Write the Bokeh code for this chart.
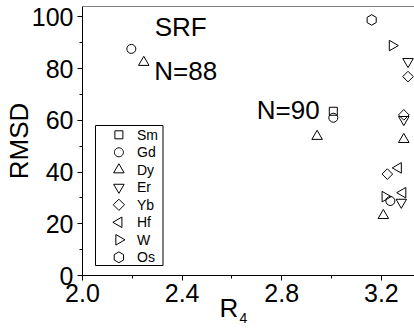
import numpy as np
from bokeh.plotting import figure
from bokeh.models import (Range1d, FixedTicker, Label, Span, PrintfTickFormatter,
                          BoxAnnotation, PolyAnnotation, Title)
from bokeh.embed import file_html
from bokeh.resources import INLINE

# ---- data ----
sm_x = [3.007]
sm_y = [63.5]
gd_x = [2.196, 3.007, 3.236]
gd_y = [87.6, 61.0, 28.8]
dy_x = [2.246, 2.942, 3.290, 3.208]
dy_y = [82.4, 53.8, 52.6, 23.2]
er_x = [3.307, 3.290, 3.280]
er_y = [82.7, 60.3, 28.3]
yb_x = [3.307, 3.290, 3.224]
yb_y = [76.9, 62.1, 39.2]
hf_x = [3.268, 3.286]
hf_y = [41.6, 32.0]
w_x = [3.244, 3.215]
w_y = [88.9, 30.5]
os_x = [3.161]
os_y = [98.8]

legend_labels = ["Sm", "Gd", "Dy", "Er", "Yb", "Hf", "W", "Os"]
x_ticks = [2.0, 2.4, 2.8, 3.2]
y_ticks = [0, 20, 40, 60, 80, 100]
x_lim = (2.0, 3.333)
y_lim = (0, 104)

FONT = "Liberation Sans"

p = figure(width=414, height=336, output_backend="svg", toolbar_location=None,
           x_range=Range1d(*x_lim), y_range=Range1d(*y_lim))
p.min_border_left = 82
p.min_border_right = 0
p.min_border_top = 6
p.min_border_bottom = 61
p.outline_line_color = None
p.xgrid.visible = False
p.ygrid.visible = False
p.background_fill_color = "white"
p.border_fill_color = "white"

xt = np.array(x_ticks)
x_minor = list((xt[:-1] + xt[1:]) / 2) + [xt[-1] + (xt[1] - xt[0]) / 2]
yt = np.array(y_ticks)
y_minor = list((yt[:-1] + yt[1:]) / 2)

p.xaxis.ticker = FixedTicker(ticks=x_ticks, minor_ticks=x_minor)
p.yaxis.ticker = FixedTicker(ticks=y_ticks, minor_ticks=y_minor)
p.xaxis.formatter = PrintfTickFormatter(format="%.1f")
p.yaxis.formatter = PrintfTickFormatter(format="%d")

for ax in (p.xaxis[0], p.yaxis[0]):
    ax.axis_line_color = "black"
    ax.axis_line_width = 1
    ax.major_tick_line_color = "black"
    ax.minor_tick_line_color = "black"
    ax.major_tick_out = 5
    ax.major_tick_in = 0
    ax.minor_tick_out = 3
    ax.minor_tick_in = 0
    ax.major_label_text_font = FONT
    ax.major_label_text_font_size = "25px"
    ax.major_label_text_color = "black"
    ax.axis_label_text_font = FONT
    ax.axis_label_text_font_style = "normal"
    ax.axis_label_text_color = "black"

p.xaxis.major_label_standoff = 3
p.yaxis.major_label_standoff = 4
p.yaxis.axis_label = "RMSD"
p.yaxis.axis_label_text_font_size = "26px"
p.yaxis.axis_label_standoff = -5

# top frame line
p.add_layout(Span(location=y_lim[1], dimension="width", line_color="black", line_width=1))

# x-axis title "R" with subscript "4"
p.add_layout(Title(text="R", align="left", offset=137, standoff=-24, vertical_align="top",
                   text_font=FONT, text_font_size="26px", text_font_style="normal",
                   text_color="black"), "below")
p.add_layout(Title(text="4", align="left", offset=157, standoff=0, vertical_align="top",
                   text_font=FONT, text_font_size="14px", text_font_style="normal",
                   text_color="black"), "below")

common = dict(fill_color=None, line_color="black", line_width=1)
p.scatter(sm_x, sm_y, marker="square", size=8, **common)
p.scatter(gd_x, gd_y, marker="circle", size=9, **common)
p.scatter(dy_x, dy_y, marker="triangle", size=10.5, **common)
p.scatter(er_x, er_y, marker="inverted_triangle", size=10.5, **common)
p.scatter(yb_x, yb_y, marker="square", angle=np.pi / 4, size=7.5, **common)
p.scatter(hf_x, hf_y, marker="triangle", angle=np.pi / 2, size=10.5, **common)
p.scatter(w_x, w_y, marker="triangle", angle=-np.pi / 2, size=10.5, **common)
p.scatter(os_x, os_y, marker="hex", angle=np.pi / 2, size=10.5, **common)

# ---- legend box (screen units, relative to the plot frame) ----
LEG_L, LEG_R, LEG_B, LEG_T = 13, 80.5, 10, 150
ITEM0, STEP = 140.7, 17.5
MX, LX = 36.4, 54.5

p.add_layout(BoxAnnotation(left=LEG_L, right=LEG_R, bottom=LEG_B, top=LEG_T,
                           left_units="screen", right_units="screen",
                           bottom_units="screen", top_units="screen",
                           fill_color="white", fill_alpha=1,
                           line_color="black", line_width=1, line_alpha=1))

def poly(kind):
    if kind == "square":
        h = 4.0
        return [-h, h, h, -h], [-h, -h, h, h]
    if kind == "circle":
        t = np.linspace(0, 2 * np.pi, 32, endpoint=False)
        return list(4.5 * np.cos(t)), list(4.5 * np.sin(t))
    w, hh = 10.5, 10.5 * np.sqrt(3) / 2
    if kind == "up":
        return [0, w / 2, -w / 2], [2 * hh / 3, -hh / 3, -hh / 3]
    if kind == "down":
        return [0, w / 2, -w / 2], [-2 * hh / 3, hh / 3, hh / 3]
    if kind == "left":
        return [-2 * hh / 3, hh / 3, hh / 3], [0, w / 2, -w / 2]
    if kind == "right":
        return [2 * hh / 3, -hh / 3, -hh / 3], [0, w / 2, -w / 2]
    if kind == "diamond":
        d = 5.6
        return [0, d, 0, -d], [d, 0, -d, 0]
    if kind == "hex":
        t = np.pi / 2 + np.arange(6) * np.pi / 3
        return list(5.4 * np.cos(t)), list(5.4 * np.sin(t))

kinds = ["square", "circle", "up", "down", "diamond", "left", "right", "hex"]
for i, (lab, kind) in enumerate(zip(legend_labels, kinds)):
    cy = ITEM0 - i * STEP
    px, py = poly(kind)
    p.add_layout(PolyAnnotation(xs=[MX + v for v in px], ys=[cy + v for v in py],
                                xs_units="screen", ys_units="screen",
                                fill_color=None, fill_alpha=0,
                                line_color="black", line_width=1, line_alpha=1))
    p.add_layout(Label(x=LX, y=cy, x_units="screen", y_units="screen", text=lab,
                       text_font=FONT, text_font_size="14px", text_color="black",
                       text_baseline="middle", text_align="left"))

def add_text(x, y, txt, size):
    p.add_layout(Label(x=x, y=y, text=txt, text_font=FONT, text_font_size=size,
                       text_color="black", text_baseline="middle", text_align="left"))

add_text(2.290, 96.1, "SRF", "26px")
add_text(2.288, 79.0, "N=88", "26px")
add_text(2.6995, 64.1, "N=90", "26px")

open("out.html", "w").write(file_html(p, INLINE))
